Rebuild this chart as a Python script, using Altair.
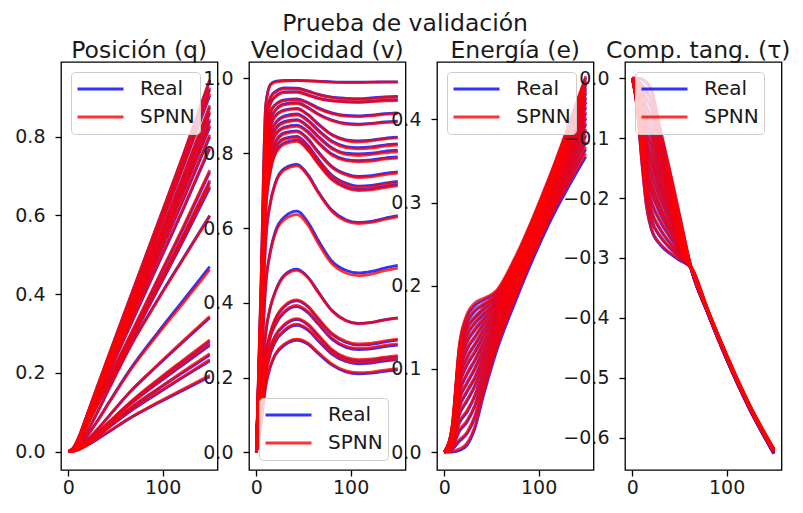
import altair as alt
import pandas as pd

# ---------------- data ----------------
SERIES = ["Real", "SPNN"]
COLORS = ["#0000ff", "#ff0000"]
X_TICKS = [0, 100]

# Posición (q)
XQ = [0, 5, 10, 20, 30, 43, 65, 95, 122, 150]
Q_REAL = [
    [0, 0.008, 0.030, 0.094, 0.160, 0.245, 0.387, 0.580, 0.754, 0.943],
    [0, 0.007, 0.029, 0.092, 0.156, 0.239, 0.377, 0.566, 0.736, 0.920],
    [0, 0.007, 0.029, 0.091, 0.154, 0.235, 0.371, 0.557, 0.724, 0.905],
    [0, 0.007, 0.028, 0.088, 0.149, 0.228, 0.359, 0.538, 0.700, 0.875],
    [0, 0.007, 0.028, 0.086, 0.146, 0.224, 0.353, 0.529, 0.688, 0.860],
    [0, 0.007, 0.027, 0.084, 0.143, 0.218, 0.344, 0.517, 0.672, 0.840],
    [0, 0.007, 0.026, 0.083, 0.140, 0.215, 0.338, 0.507, 0.660, 0.825],
    [0, 0.006, 0.026, 0.080, 0.136, 0.208, 0.328, 0.492, 0.640, 0.800],
    [0, 0.006, 0.025, 0.077, 0.131, 0.200, 0.316, 0.474, 0.616, 0.770],
    [0, 0.006, 0.023, 0.071, 0.121, 0.185, 0.291, 0.437, 0.568, 0.710],
    [0, 0.005, 0.022, 0.069, 0.116, 0.178, 0.281, 0.421, 0.548, 0.685],
    [0, 0.005, 0.021, 0.067, 0.114, 0.174, 0.275, 0.412, 0.536, 0.670],
    [0, 0.003, 0.013, 0.051, 0.096, 0.159, 0.264, 0.387, 0.492, 0.600],
    [0, 0.002, 0.010, 0.040, 0.075, 0.125, 0.207, 0.303, 0.385, 0.470],
    [0, 0.002, 0.007, 0.029, 0.054, 0.090, 0.150, 0.219, 0.279, 0.340],
    [0, 0.001, 0.006, 0.024, 0.045, 0.074, 0.123, 0.181, 0.230, 0.280],
    [0, 0.001, 0.006, 0.023, 0.043, 0.072, 0.119, 0.174, 0.221, 0.270],
    [0, 0.001, 0.005, 0.021, 0.039, 0.065, 0.108, 0.158, 0.201, 0.245],
    [0, 0.001, 0.005, 0.020, 0.037, 0.061, 0.101, 0.148, 0.189, 0.230],
    [0, 0.001, 0.004, 0.016, 0.030, 0.050, 0.084, 0.123, 0.156, 0.190],
]
Q_SPNN = [
    [0, 0.008, 0.031, 0.095, 0.161, 0.246, 0.388, 0.581, 0.755, 0.945],
    [0, 0.007, 0.029, 0.092, 0.157, 0.240, 0.378, 0.568, 0.739, 0.925],
    [0, 0.007, 0.029, 0.091, 0.155, 0.236, 0.372, 0.559, 0.727, 0.910],
    [0, 0.007, 0.028, 0.088, 0.150, 0.229, 0.360, 0.540, 0.703, 0.880],
    [0, 0.007, 0.028, 0.086, 0.147, 0.225, 0.354, 0.531, 0.691, 0.865],
    [0, 0.007, 0.027, 0.084, 0.144, 0.219, 0.345, 0.519, 0.675, 0.845],
    [0, 0.007, 0.026, 0.083, 0.141, 0.216, 0.339, 0.509, 0.663, 0.830],
    [0, 0.006, 0.026, 0.080, 0.137, 0.209, 0.330, 0.495, 0.644, 0.805],
    [0, 0.006, 0.025, 0.077, 0.132, 0.201, 0.318, 0.477, 0.620, 0.775],
    [0, 0.006, 0.023, 0.071, 0.122, 0.186, 0.293, 0.440, 0.572, 0.715],
    [0, 0.005, 0.022, 0.069, 0.117, 0.179, 0.283, 0.424, 0.552, 0.690],
    [0, 0.005, 0.021, 0.067, 0.115, 0.175, 0.277, 0.415, 0.540, 0.675],
    [0, 0.003, 0.013, 0.051, 0.096, 0.159, 0.263, 0.385, 0.490, 0.598],
    [0, 0.002, 0.010, 0.040, 0.074, 0.123, 0.204, 0.298, 0.378, 0.462],
    [0, 0.002, 0.007, 0.029, 0.054, 0.090, 0.151, 0.221, 0.282, 0.344],
    [0, 0.001, 0.006, 0.024, 0.045, 0.075, 0.124, 0.183, 0.233, 0.284],
    [0, 0.001, 0.006, 0.023, 0.044, 0.073, 0.120, 0.176, 0.224, 0.274],
    [0, 0.001, 0.005, 0.021, 0.040, 0.066, 0.110, 0.160, 0.204, 0.249],
    [0, 0.001, 0.005, 0.020, 0.038, 0.062, 0.103, 0.150, 0.191, 0.234],
    [0, 0.001, 0.004, 0.016, 0.031, 0.051, 0.085, 0.125, 0.159, 0.194],
]

# Velocidad (v)
XV = [0, 5, 10, 15, 20, 30, 43, 55, 65, 80, 95, 108, 122, 136, 150]
V_REAL = [
    [0, 0.45, 0.93, 0.985, 0.992, 0.995, 0.995, 0.994, 0.993, 0.991, 0.990, 0.990, 0.990, 0.991, 0.991],
    [0, 0.42, 0.88, 0.950, 0.965, 0.975, 0.974, 0.966, 0.958, 0.950, 0.947, 0.946, 0.948, 0.951, 0.952],
    [0, 0.40, 0.86, 0.935, 0.952, 0.964, 0.965, 0.956, 0.948, 0.941, 0.938, 0.937, 0.939, 0.942, 0.943],
    [0, 0.40, 0.83, 0.910, 0.930, 0.943, 0.945, 0.935, 0.922, 0.908, 0.901, 0.900, 0.902, 0.906, 0.908],
    [0, 0.38, 0.80, 0.890, 0.915, 0.932, 0.935, 0.922, 0.906, 0.889, 0.880, 0.878, 0.880, 0.884, 0.886],
    [0, 0.37, 0.77, 0.870, 0.900, 0.916, 0.920, 0.903, 0.880, 0.850, 0.836, 0.833, 0.835, 0.840, 0.843],
    [0, 0.36, 0.75, 0.850, 0.880, 0.900, 0.905, 0.888, 0.864, 0.833, 0.818, 0.815, 0.817, 0.822, 0.825],
    [0, 0.35, 0.73, 0.830, 0.865, 0.885, 0.890, 0.872, 0.847, 0.815, 0.800, 0.798, 0.800, 0.805, 0.808],
    [0, 0.34, 0.71, 0.810, 0.850, 0.870, 0.875, 0.857, 0.831, 0.798, 0.783, 0.780, 0.782, 0.787, 0.790],
    [0, 0.33, 0.69, 0.790, 0.830, 0.855, 0.860, 0.838, 0.806, 0.765, 0.745, 0.738, 0.740, 0.746, 0.750],
    [0, 0.32, 0.67, 0.770, 0.815, 0.840, 0.845, 0.820, 0.786, 0.742, 0.720, 0.712, 0.714, 0.720, 0.725],
    [0, 0.31, 0.65, 0.755, 0.800, 0.828, 0.835, 0.810, 0.776, 0.732, 0.710, 0.703, 0.705, 0.711, 0.716],
    [0, 0.28, 0.57, 0.670, 0.720, 0.760, 0.770, 0.742, 0.700, 0.648, 0.622, 0.615, 0.618, 0.626, 0.633],
    [0, 0.22, 0.45, 0.540, 0.590, 0.630, 0.645, 0.615, 0.570, 0.512, 0.487, 0.480, 0.484, 0.493, 0.500],
    [0, 0.15, 0.32, 0.390, 0.430, 0.475, 0.490, 0.468, 0.432, 0.380, 0.353, 0.345, 0.348, 0.355, 0.360],
    [0, 0.12, 0.26, 0.320, 0.355, 0.390, 0.405, 0.388, 0.358, 0.316, 0.294, 0.287, 0.289, 0.295, 0.300],
    [0, 0.11, 0.25, 0.310, 0.340, 0.375, 0.390, 0.373, 0.345, 0.303, 0.281, 0.275, 0.277, 0.283, 0.287],
    [0, 0.10, 0.22, 0.280, 0.310, 0.340, 0.355, 0.340, 0.313, 0.273, 0.251, 0.245, 0.247, 0.252, 0.256],
    [0, 0.09, 0.21, 0.265, 0.295, 0.325, 0.340, 0.326, 0.300, 0.263, 0.243, 0.237, 0.239, 0.244, 0.248],
    [0, 0.08, 0.18, 0.230, 0.260, 0.287, 0.300, 0.289, 0.266, 0.234, 0.215, 0.210, 0.212, 0.217, 0.221],
]
V_SPNN = [
    [0, 0.46, 0.93, 0.982, 0.990, 0.993, 0.994, 0.993, 0.992, 0.990, 0.989, 0.989, 0.990, 0.990, 0.990],
    [0, 0.43, 0.88, 0.948, 0.963, 0.972, 0.972, 0.965, 0.957, 0.949, 0.945, 0.944, 0.946, 0.949, 0.950],
    [0, 0.41, 0.86, 0.933, 0.950, 0.962, 0.963, 0.955, 0.947, 0.940, 0.937, 0.936, 0.938, 0.940, 0.941],
    [0, 0.40, 0.83, 0.908, 0.928, 0.941, 0.943, 0.933, 0.920, 0.906, 0.899, 0.898, 0.900, 0.904, 0.906],
    [0, 0.39, 0.80, 0.888, 0.913, 0.930, 0.933, 0.920, 0.904, 0.887, 0.878, 0.876, 0.879, 0.882, 0.884],
    [0, 0.37, 0.77, 0.868, 0.898, 0.914, 0.918, 0.901, 0.878, 0.849, 0.834, 0.830, 0.833, 0.838, 0.841],
    [0, 0.36, 0.75, 0.848, 0.878, 0.897, 0.902, 0.885, 0.861, 0.830, 0.815, 0.812, 0.814, 0.819, 0.822],
    [0, 0.35, 0.73, 0.828, 0.862, 0.882, 0.887, 0.869, 0.844, 0.812, 0.797, 0.794, 0.797, 0.801, 0.804],
    [0, 0.34, 0.71, 0.808, 0.847, 0.867, 0.872, 0.854, 0.828, 0.795, 0.780, 0.777, 0.779, 0.784, 0.787],
    [0, 0.33, 0.69, 0.788, 0.827, 0.852, 0.857, 0.835, 0.803, 0.762, 0.742, 0.735, 0.737, 0.743, 0.747],
    [0, 0.32, 0.67, 0.768, 0.812, 0.837, 0.842, 0.817, 0.783, 0.739, 0.717, 0.709, 0.711, 0.717, 0.722],
    [0, 0.31, 0.65, 0.752, 0.797, 0.825, 0.832, 0.807, 0.773, 0.729, 0.707, 0.700, 0.702, 0.708, 0.713],
    [0, 0.28, 0.57, 0.668, 0.717, 0.756, 0.766, 0.738, 0.697, 0.645, 0.619, 0.612, 0.615, 0.623, 0.630],
    [0, 0.22, 0.45, 0.537, 0.585, 0.623, 0.636, 0.607, 0.562, 0.505, 0.480, 0.473, 0.477, 0.486, 0.493],
    [0, 0.15, 0.32, 0.390, 0.428, 0.472, 0.487, 0.466, 0.430, 0.379, 0.352, 0.344, 0.347, 0.354, 0.359],
    [0, 0.12, 0.26, 0.322, 0.357, 0.393, 0.408, 0.391, 0.361, 0.319, 0.297, 0.290, 0.292, 0.298, 0.303],
    [0, 0.11, 0.25, 0.312, 0.343, 0.378, 0.393, 0.376, 0.348, 0.306, 0.284, 0.278, 0.280, 0.286, 0.290],
    [0, 0.10, 0.22, 0.282, 0.313, 0.343, 0.358, 0.343, 0.316, 0.276, 0.254, 0.248, 0.250, 0.255, 0.259],
    [0, 0.09, 0.21, 0.267, 0.298, 0.328, 0.343, 0.329, 0.303, 0.266, 0.246, 0.240, 0.242, 0.247, 0.251],
    [0, 0.08, 0.18, 0.232, 0.263, 0.290, 0.303, 0.292, 0.269, 0.237, 0.218, 0.213, 0.215, 0.220, 0.224],
]

# Energía (e)
XE = [0, 8, 16, 24, 32, 42, 55, 75, 110, 150]
E_REAL = [
    [0, 0.028, 0.128, 0.163, 0.176, 0.183, 0.192, 0.232, 0.325, 0.450],
    [0, 0.027, 0.122, 0.155, 0.169, 0.177, 0.188, 0.229, 0.322, 0.445],
    [0, 0.025, 0.115, 0.148, 0.161, 0.172, 0.185, 0.227, 0.320, 0.441],
    [0, 0.024, 0.109, 0.140, 0.154, 0.166, 0.181, 0.224, 0.317, 0.436],
    [0, 0.022, 0.103, 0.132, 0.146, 0.160, 0.178, 0.222, 0.314, 0.431],
    [0, 0.021, 0.095, 0.123, 0.137, 0.154, 0.173, 0.219, 0.311, 0.425],
    [0, 0.019, 0.088, 0.113, 0.128, 0.147, 0.169, 0.215, 0.308, 0.420],
    [0, 0.017, 0.080, 0.104, 0.119, 0.140, 0.165, 0.212, 0.305, 0.414],
    [0, 0.015, 0.071, 0.093, 0.109, 0.132, 0.160, 0.209, 0.301, 0.407],
    [0, 0.013, 0.063, 0.082, 0.099, 0.124, 0.155, 0.205, 0.297, 0.401],
    [0, 0.012, 0.054, 0.072, 0.088, 0.116, 0.150, 0.201, 0.294, 0.394],
    [0, 0.010, 0.045, 0.061, 0.078, 0.108, 0.145, 0.198, 0.290, 0.387],
    [0, 0.007, 0.035, 0.048, 0.066, 0.099, 0.139, 0.194, 0.286, 0.380],
    [0, 0.005, 0.025, 0.036, 0.054, 0.090, 0.133, 0.189, 0.282, 0.372],
    [0, 0.003, 0.013, 0.022, 0.040, 0.080, 0.127, 0.185, 0.277, 0.364],
    [0, 0.000, 0.002, 0.008, 0.027, 0.070, 0.120, 0.180, 0.272, 0.355],
]
E_SPNN = [
    [0, 0.030, 0.130, 0.166, 0.179, 0.185, 0.194, 0.234, 0.327, 0.452],
    [0, 0.028, 0.124, 0.158, 0.171, 0.179, 0.190, 0.231, 0.324, 0.447],
    [0, 0.026, 0.117, 0.150, 0.163, 0.174, 0.187, 0.229, 0.322, 0.443],
    [0, 0.025, 0.111, 0.142, 0.156, 0.168, 0.183, 0.226, 0.319, 0.438],
    [0, 0.023, 0.105, 0.134, 0.148, 0.162, 0.180, 0.224, 0.316, 0.433],
    [0, 0.022, 0.097, 0.125, 0.139, 0.156, 0.175, 0.221, 0.313, 0.427],
    [0, 0.020, 0.090, 0.115, 0.130, 0.149, 0.171, 0.217, 0.310, 0.422],
    [0, 0.018, 0.082, 0.106, 0.121, 0.142, 0.167, 0.214, 0.307, 0.416],
    [0, 0.016, 0.073, 0.095, 0.111, 0.134, 0.162, 0.211, 0.303, 0.409],
    [0, 0.014, 0.065, 0.084, 0.101, 0.126, 0.157, 0.207, 0.299, 0.403],
    [0, 0.013, 0.056, 0.074, 0.090, 0.118, 0.152, 0.203, 0.296, 0.396],
    [0, 0.011, 0.047, 0.063, 0.080, 0.110, 0.147, 0.200, 0.292, 0.389],
    [0, 0.008, 0.037, 0.050, 0.068, 0.101, 0.141, 0.196, 0.288, 0.382],
    [0, 0.006, 0.027, 0.038, 0.056, 0.092, 0.135, 0.191, 0.284, 0.374],
    [0, 0.004, 0.015, 0.024, 0.043, 0.083, 0.130, 0.188, 0.280, 0.367],
    [0, 0.001, 0.004, 0.011, 0.030, 0.074, 0.124, 0.184, 0.276, 0.359],
]

# Comp. tang. (tau)
XT = [0, 5, 10, 15, 20, 30, 40, 50, 63, 80, 100, 125, 150]
T_REAL = [
    [0, -0.050, -0.140, -0.215, -0.252, -0.279, -0.293, -0.304, -0.318, -0.388, -0.463, -0.549, -0.620],
    [0, -0.047, -0.130, -0.201, -0.236, -0.266, -0.284, -0.299, -0.318, -0.388, -0.464, -0.549, -0.621],
    [0, -0.044, -0.122, -0.188, -0.222, -0.254, -0.276, -0.294, -0.319, -0.389, -0.464, -0.550, -0.621],
    [0, -0.040, -0.112, -0.174, -0.206, -0.241, -0.266, -0.289, -0.319, -0.389, -0.465, -0.550, -0.622],
    [0, -0.037, -0.103, -0.159, -0.189, -0.228, -0.257, -0.284, -0.319, -0.389, -0.465, -0.550, -0.622],
    [0, -0.034, -0.095, -0.147, -0.175, -0.217, -0.249, -0.279, -0.320, -0.390, -0.466, -0.551, -0.623],
    [0, -0.030, -0.085, -0.132, -0.159, -0.203, -0.239, -0.274, -0.320, -0.390, -0.466, -0.551, -0.623],
    [0, -0.027, -0.075, -0.118, -0.143, -0.190, -0.230, -0.269, -0.320, -0.390, -0.466, -0.551, -0.623],
    [0, -0.024, -0.067, -0.105, -0.129, -0.179, -0.221, -0.264, -0.320, -0.390, -0.467, -0.552, -0.624],
    [0, -0.020, -0.057, -0.091, -0.113, -0.166, -0.212, -0.259, -0.321, -0.391, -0.467, -0.552, -0.624],
    [0, -0.017, -0.048, -0.076, -0.097, -0.152, -0.203, -0.254, -0.321, -0.391, -0.467, -0.552, -0.624],
    [0, -0.014, -0.039, -0.064, -0.083, -0.141, -0.195, -0.249, -0.321, -0.391, -0.468, -0.553, -0.625],
    [0, -0.010, -0.030, -0.049, -0.066, -0.128, -0.185, -0.244, -0.321, -0.392, -0.468, -0.553, -0.625],
    [0, -0.007, -0.020, -0.035, -0.050, -0.115, -0.176, -0.239, -0.322, -0.392, -0.469, -0.554, -0.626],
    [0, -0.004, -0.012, -0.023, -0.036, -0.103, -0.168, -0.234, -0.322, -0.392, -0.469, -0.554, -0.626],
    [0, 0.000, -0.002, -0.008, -0.020, -0.090, -0.158, -0.229, -0.322, -0.393, -0.470, -0.555, -0.627],
]
T_SPNN = [
    [0, -0.049, -0.138, -0.212, -0.249, -0.277, -0.291, -0.302, -0.317, -0.386, -0.461, -0.547, -0.618],
    [0, -0.046, -0.128, -0.198, -0.233, -0.264, -0.282, -0.297, -0.317, -0.386, -0.462, -0.547, -0.619],
    [0, -0.043, -0.120, -0.185, -0.219, -0.252, -0.274, -0.292, -0.317, -0.387, -0.462, -0.548, -0.619],
    [0, -0.039, -0.110, -0.171, -0.203, -0.238, -0.263, -0.287, -0.317, -0.387, -0.463, -0.548, -0.620],
    [0, -0.036, -0.101, -0.156, -0.186, -0.225, -0.254, -0.282, -0.317, -0.387, -0.463, -0.548, -0.620],
    [0, -0.033, -0.093, -0.144, -0.172, -0.214, -0.246, -0.277, -0.318, -0.388, -0.464, -0.549, -0.621],
    [0, -0.029, -0.083, -0.129, -0.156, -0.200, -0.236, -0.272, -0.318, -0.388, -0.464, -0.549, -0.621],
    [0, -0.026, -0.073, -0.115, -0.140, -0.187, -0.227, -0.267, -0.318, -0.388, -0.464, -0.549, -0.621],
    [0, -0.023, -0.065, -0.102, -0.126, -0.176, -0.218, -0.262, -0.318, -0.388, -0.465, -0.550, -0.622],
    [0, -0.019, -0.055, -0.088, -0.110, -0.163, -0.209, -0.257, -0.319, -0.389, -0.465, -0.550, -0.622],
    [0, -0.016, -0.046, -0.073, -0.094, -0.149, -0.200, -0.252, -0.319, -0.389, -0.465, -0.550, -0.622],
    [0, -0.013, -0.037, -0.061, -0.080, -0.138, -0.192, -0.247, -0.319, -0.389, -0.466, -0.551, -0.623],
    [0, -0.009, -0.028, -0.046, -0.063, -0.125, -0.182, -0.242, -0.319, -0.390, -0.466, -0.551, -0.623],
    [0, -0.006, -0.018, -0.032, -0.047, -0.112, -0.173, -0.237, -0.320, -0.390, -0.467, -0.552, -0.624],
    [0, -0.003, -0.010, -0.020, -0.033, -0.100, -0.165, -0.232, -0.320, -0.390, -0.467, -0.552, -0.624],
    [0, 0.000, -0.001, -0.006, -0.017, -0.087, -0.155, -0.227, -0.320, -0.391, -0.468, -0.553, -0.625],
]

TITLE = "Prueba de validación"
PANEL_TITLES = ["Posición (q)", "Velocidad (v)", "Energía (e)", "Comp. tang. (τ)"]
TITLE_DX = [0, 0, 0, -5]
Y_TICKS = [
    [0.0, 0.2, 0.4, 0.6, 0.8],
    [0.0, 0.2, 0.4, 0.6, 0.8, 1.0],
    [0.0, 0.1, 0.2, 0.3, 0.4],
    [0.0, -0.1, -0.2, -0.3, -0.4, -0.5, -0.6],
]
Y_DOMAINS = [[-0.047, 0.99], [-0.047, 1.044], [-0.0215, 0.469], [-0.654, 0.027]]
X_DOMAIN = [-7.8, 158.2]
LEGEND_ORIENT = ["top-left", "bottom-left", "top-left", "top-left"]

FONT = "DejaVu Sans"
TXT = "#1a1a1a"
PW, PH = 156.5, 408
TITLE_SIZE = 23.5


def to_frame(xs, real, spnn):
    rows = []
    for i, (r, s) in enumerate(zip(real, spnn)):
        for x, y in zip(xs, r):
            rows.append({"x": x, "y": y, "traj": i, "serie": SERIES[0]})
        for x, y in zip(xs, s):
            rows.append({"x": x, "y": y, "traj": i, "serie": SERIES[1]})
    return pd.DataFrame(rows)


def panel(df, title, tdx, ydom, yticks, orient):
    legend = alt.Legend(
        title=None, orient=orient, offset=10,
        fillColor="rgba(255,255,255,0.8)", strokeColor="#cccccc",
        cornerRadius=4, padding=5,
        symbolType="stroke", symbolSize=2116, symbolStrokeWidth=2.8,
        symbolOpacity=0.8, clipHeight=24, rowPadding=4,
        labelFont=FONT, labelFontSize=20, labelColor=TXT, labelOffset=15,
    )
    base = alt.Chart(df).mark_line(strokeWidth=2.8, opacity=0.8, interpolate="monotone").encode(
        x=alt.X("x:Q", scale=alt.Scale(domain=X_DOMAIN, nice=False, zero=False),
                axis=alt.Axis(values=X_TICKS, title=None, format="d", labelPadding=2)),
        y=alt.Y("y:Q", scale=alt.Scale(domain=ydom, nice=False, zero=False),
                axis=alt.Axis(values=yticks, title=None, format=".1f", labelPadding=10)),
        color=alt.Color("serie:N", scale=alt.Scale(domain=SERIES, range=COLORS), legend=legend),
        detail="traj:N",
    )
    real = base.transform_filter(alt.datum.serie == SERIES[0])
    spnn = base.transform_filter(alt.datum.serie == SERIES[1])
    return alt.layer(real, spnn).properties(
        width=PW, height=PH,
        title=alt.Title(title, anchor="middle", frame="group", fontSize=TITLE_SIZE, font=FONT,
                        fontWeight="normal", color=TXT, offset=0, dx=tdx),
    )


frames = [
    to_frame(XQ, Q_REAL, Q_SPNN),
    to_frame(XV, V_REAL, V_SPNN),
    to_frame(XE, E_REAL, E_SPNN),
    to_frame(XT, T_REAL, T_SPNN),
]

panels = [
    panel(frames[i], PANEL_TITLES[i], TITLE_DX[i], Y_DOMAINS[i], Y_TICKS[i], LEGEND_ORIENT[i])
    for i in range(4)
]

chart = alt.hconcat(
    *panels, spacing=31, bounds="flush",
    title=alt.Title(TITLE, anchor="middle", fontSize=TITLE_SIZE, font=FONT, fontWeight="normal",
                    color=TXT, dx=2.5, offset=2),
).resolve_scale(color="independent").properties(
    padding={"left": 6, "top": 4, "right": 0, "bottom": 0},
).configure_view(
    stroke="#000000", strokeWidth=1.3,
).configure_axis(
    domain=False, grid=False, tickColor="#000000", tickWidth=1.3, tickSize=6,
    labelFont=FONT, labelFontSize=19, labelColor=TXT,
)

chart.save("out.html", embed_options={"renderer": "svg", "actions": False})
